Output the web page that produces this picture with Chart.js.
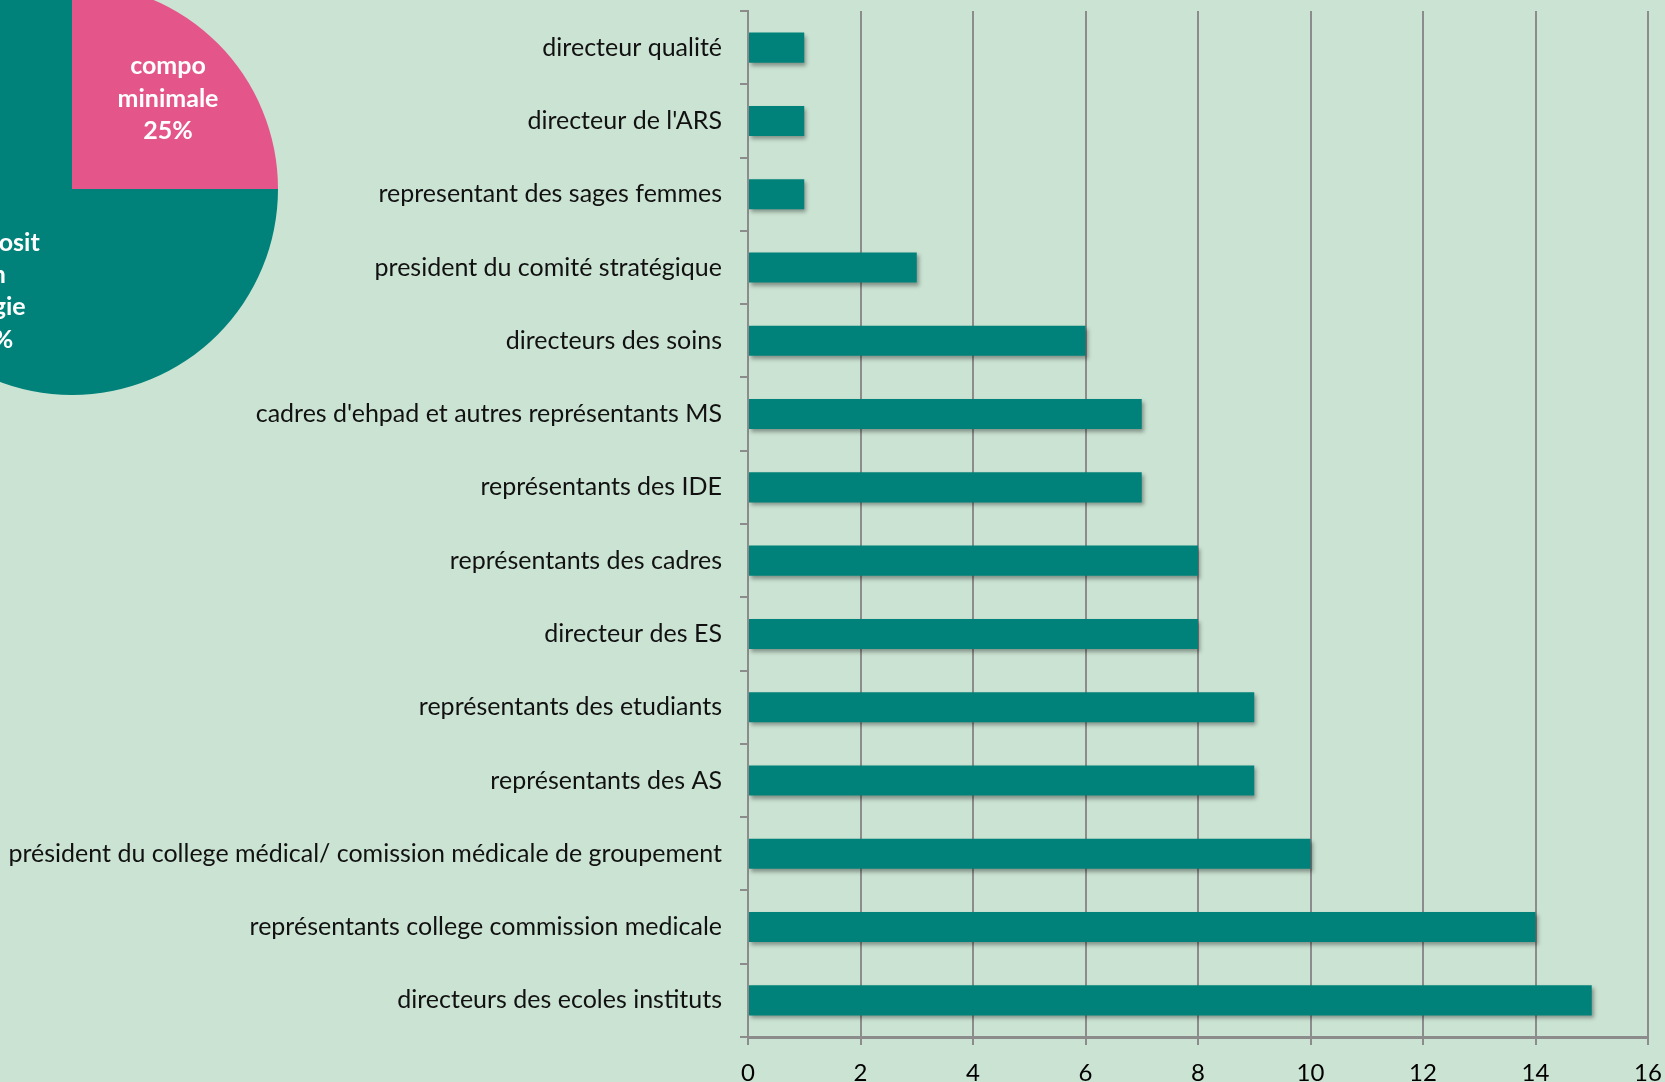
<!DOCTYPE html>
<html>
<head>
<meta charset="utf-8">
<script src="https://cdn.jsdelivr.net/npm/chart.js@4"></script>
<style>
  body { margin: 0; background: #cbe3d3; overflow: hidden; }
  #wrap { position: relative; width: 1665px; height: 1082px; overflow: hidden; }
  #bar { position: absolute; left: 0; top: 0; }
  #pie { position: absolute; left: -134px; top: -17px; }
</style>
</head>
<body>
<div id="wrap">
  <canvas id="bar" width="1665" height="1082"></canvas>
  <canvas id="pie" width="412" height="412"></canvas>
</div>
<script>
// Données du graphique en barres
const categories = [
  "directeur qualité",
  "directeur de l'ARS",
  "representant des sages femmes",
  "president du comité stratégique",
  "directeurs des soins",
  "cadres d'ehpad et autres représentants MS",
  "représentants des IDE",
  "représentants des cadres",
  "directeur des ES",
  "représentants des etudiants",
  "représentants des AS",
  "président du college médical/ comission médicale de groupement",
  "représentants college commission medicale",
  "directeurs des ecoles instituts"
];
const valeurs = [1, 1, 1, 3, 6, 7, 7, 8, 8, 9, 9, 10, 14, 15];
const xMin = 0;
const xMax = 16;
const xStep = 2;

// Données du camembert
const pieLabels = [["compo", "minimale"], ["composit", "ion", "élargie"]];
const pieValues = [25, 75];

const teal = "#00827a";
const pink = "#e4558a";
const gris = "#8c8c8c";
const police = "Lato, 'Open Sans', sans-serif";

// Ombre portée sous les barres
const ombrePlugin = {
  id: "ombre",
  beforeDatasetsDraw(chart) {
    const ctx = chart.ctx;
    ctx.save();
    ctx.shadowColor = "rgba(0,0,0,0.35)";
    ctx.shadowBlur = 4;
    ctx.shadowOffsetX = 2;
    ctx.shadowOffsetY = 3;
  },
  afterDatasetsDraw(chart) {
    chart.ctx.restore();
  }
};

new Chart(document.getElementById("bar"), {
  type: "bar",
  data: {
    labels: categories,
    datasets: [{
      data: valeurs,
      backgroundColor: teal,
      borderWidth: 0,
      barPercentage: 0.41,
      categoryPercentage: 1
    }]
  },
  options: {
    indexAxis: "y",
    responsive: false,
    animation: false,
    layout: { autoPadding: false, padding: { top: 11, right: 17, left: 0, bottom: 0 } },
    plugins: { legend: { display: false }, tooltip: { enabled: false } },
    scales: {
      x: {
        min: xMin,
        max: xMax,
        ticks: {
          stepSize: xStep,
          color: "#000",
          padding: 14,
          font: { family: police, size: 24 }
        },
        grid: { color: gris, lineWidth: 2, tickLength: 8 },
        border: { color: gris, width: 3 },
        afterFit(scale) {
          scale.height = 45;
          scale.paddingLeft = 0;
          scale.paddingRight = 0;
        }
      },
      y: {
        ticks: {
          color: "#111",
          padding: 18,
          autoSkip: false,
          font: { family: police, size: 25 }
        },
        grid: { offset: true, drawOnChartArea: false, color: gris, lineWidth: 2, tickLength: 8 },
        border: { color: gris, width: 2 },
        afterFit(scale) {
          scale.width = 748;
          scale.paddingTop = 0;
          scale.paddingBottom = 0;
        }
      }
    }
  },
  plugins: [ombrePlugin]
});

// Étiquettes dans les parts du camembert (décalage angulaire comme dans Excel)
const decalageAngle = [0.03, -0.1];
const etiquettesPlugin = {
  id: "etiquettes",
  afterDatasetsDraw(chart) {
    const ctx = chart.ctx;
    const meta = chart.getDatasetMeta(0);
    const total = pieValues.reduce((a, b) => a + b, 0);
    ctx.save();
    ctx.fillStyle = "#fff";
    ctx.font = "bold 25px " + police;
    ctx.textAlign = "center";
    ctx.textBaseline = "middle";
    meta.data.forEach((arc, i) => {
      const mid = (arc.startAngle + arc.endAngle) / 2 + decalageAngle[i];
      const r = arc.outerRadius * 0.64;
      const x = arc.x + Math.cos(mid) * r;
      const y = arc.y + Math.sin(mid) * r;
      const lignes = pieLabels[i].concat([Math.round(pieValues[i] / total * 100) + "%"]);
      const h = 32.4;
      lignes.forEach((t, j) => {
        ctx.fillText(t, x, y + (j - (lignes.length - 1) / 2) * h);
      });
    });
    ctx.restore();
  }
};

new Chart(document.getElementById("pie"), {
  type: "pie",
  data: {
    labels: pieLabels.map(l => l.join(" ")),
    datasets: [{
      data: pieValues,
      backgroundColor: [pink, teal],
      borderWidth: 0
    }]
  },
  options: {
    responsive: false,
    animation: false,
    layout: { padding: 0 },
    plugins: { legend: { display: false }, tooltip: { enabled: false } }
  },
  plugins: [etiquettesPlugin]
});
</script>
</body>
</html>
